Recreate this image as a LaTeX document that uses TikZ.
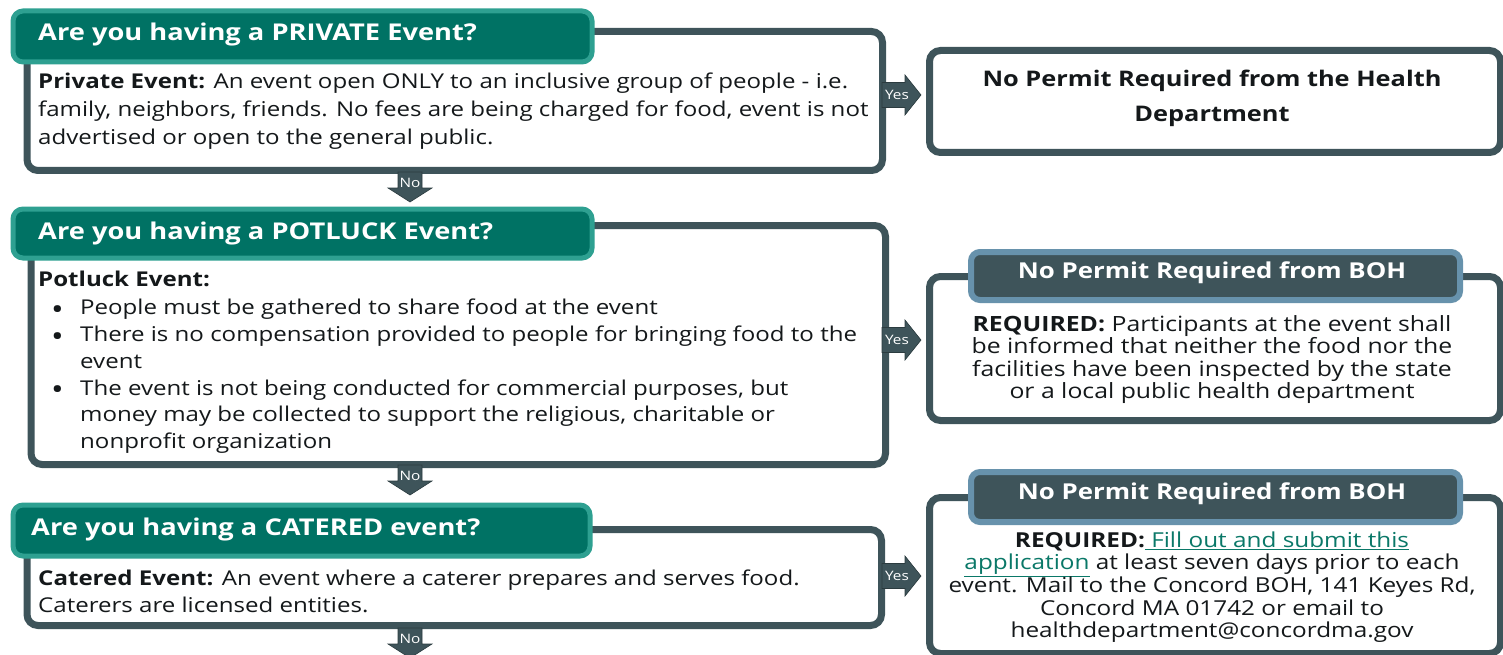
\documentclass[tikz,border=0pt]{standalone}
\usepackage{fontspec}
\setmainfont{Open Sans}[FakeStretch=1.18]
\definecolor{hdrfill}{RGB}{0,114,100}
\definecolor{hdredge}{RGB}{46,160,145}
\definecolor{slate}{RGB}{62,84,90}
\definecolor{steel}{RGB}{103,146,172}
\definecolor{ink}{RGB}{20,24,26}
\definecolor{linkc}{RGB}{10,120,104}
\tikzset{
  qbox/.style={draw=slate, line width=7pt, fill=white, rounded corners=11pt, inner sep=0pt, anchor=north west},
  hdr/.style={draw=hdredge, line width=5pt, fill=hdrfill, rounded corners=10pt, inner sep=0pt, anchor=north west},
  bohhdr/.style={draw=steel, line width=6pt, fill=slate, rounded corners=9pt, inner sep=0pt, anchor=north west},
  hdrtext/.style={text=white, font={\fontsize{23.1}{28}\selectfont\bfseries}, inner sep=0pt, anchor=west},
  bohtext/.style={text=white, font={\fontsize{21.9}{26}\selectfont\bfseries}, inner sep=0pt, anchor=center},
  body/.style={text=ink, font={\fontsize{20.4}{28}\selectfont}, inner sep=0pt, align=left, anchor=north west},
  rbody/.style={text=ink, font={\fontsize{21}{22.6}\selectfont}, inner sep=0pt, align=center, anchor=north},
  arrowfill/.style={fill=slate, draw=slate!70!black, line width=0.6pt},
  arrowlab/.style={text=white, font={\fontsize{13}{15}\selectfont}, inner sep=0pt},
}
% list bullet with its hanging indent, and the matching indent for wrapped lines
\newcommand{\bul}{\makebox[42pt][l]{\hspace{13pt}\raisebox{-4.5pt}{\smash{\scalebox{1.4}{\textbullet}}}}}
\newcommand{\ind}{\hspace*{42pt}}
\begin{document}
\begin{tikzpicture}[x=1pt,y=-1pt]
\useasboundingbox (0,0) rectangle (1503,655);

% --- left column: question boxes
\node[qbox, minimum width=855.5, minimum height=139] (q1) at (23.5,28) {};
\node[qbox, minimum width=854.5, minimum height=239] (q2) at (27.5,222) {};
\node[qbox, minimum width=854.5, minimum height=96] (q3) at (23.5,526) {};

% --- right column: outcome boxes
\node[qbox, minimum width=571, minimum height=102] (r1) at (926,47) {};
\node[qbox, minimum width=571, minimum height=144] (r2) at (926,273) {};
\node[qbox, minimum width=571, minimum height=156] (r3) at (926,494) {};

% --- question headers
\node[hdr, minimum width=579, minimum height=51] (h1) at (10.5,8.5) {};
\node[hdr, minimum width=579, minimum height=49] (h2) at (10.5,206.5) {};
\node[hdr, minimum width=577, minimum height=51] (h3) at (10.5,502.5) {};
\node[hdrtext] (h1t) at (38,35) {Are you having a PRIVATE Event?};
\node[hdrtext] (h2t) at (38,233.5) {Are you having a POTLUCK Event?};
\node[hdrtext] (h3t) at (31,529) {Are you having a CATERED event?};

% --- outcome headers
\node[bohhdr, minimum width=489, minimum height=48] (g2) at (968,249) {};
\node[bohhdr, minimum width=489, minimum height=50] (g3) at (968,469) {};
\node[bohtext] (g2t) at (1212,273) {No Permit Required from BOH};
\node[bohtext] (g3t) at (1212,494) {No Permit Required from BOH};

% --- question descriptions
\node[body] (b1) at (38,73) {\textbf{Private Event:} An event open ONLY to an inclusive group of people - i.e.\\
family, neighbors, friends. No fees are being charged for food, event is not\\
advertised or open to the general public.};
\node[body, font={\fontsize{20.4}{26.8}\selectfont}] (b2) at (38,271) {\textbf{Potluck Event:}\\[1.2pt]
\bul People must be gathered to share food at the event\\
\bul There is no compensation provided to people for bringing food to the\\
\ind event\\
\bul The event is not being conducted for commercial purposes, but\\
\ind money may be collected to support the religious, charitable or\\
\ind nonprofit organization};
\node[body, font={\fontsize{20.4}{27}\selectfont}] (b3) at (38,569.5) {\textbf{Catered Event:} An event where a caterer prepares and serves food.\\
Caterers are licensed entities.};

% --- outcome texts
\node[text=ink, font={\fontsize{21.5}{35}\selectfont\bfseries}, inner sep=0pt, align=center] (r1t) at (1212,98) {No Permit Required from the Health\\ Department};
\node[rbody] (r2t) at (1212,315) {\textbf{REQUIRED:} Participants at the event shall\\
be informed that neither the food nor the\\
facilities have been inspected by the state\\
or a local public health department};
\node[rbody, font={\fontsize{20.6}{22.6}\selectfont}] (r3t) at (1212,531.5) {\textbf{REQUIRED:}\textcolor{linkc}{\underline{\ Fill out and submit this}}\\
\textcolor{linkc}{\underline{application}} at least seven days prior to each\\
event. Mail to the Concord BOH, 141 Keyes Rd,\\
Concord MA 01742 or email to\\
healthdepartment@concordma.gov};

% --- "Yes" arrows (left box to outcome box)
\foreach \n/\yy in {1/95, 2/340, 3/576} {
  \fill[arrowfill, shift={(882,\yy)}] (0,-12.5) -- (23,-12.5) -- (23,-20) -- (39,0) -- (23,20) -- (23,12.5) -- (0,12.5) -- cycle;
  \node[arrowlab] (yes\n) at (897,\yy) {Yes};
}
% --- "No" arrows (down to next question)
\foreach \n/\yy in {1/172, 2/465, 3/628} {
  \fill[arrowfill, shift={(410,\yy)}] (-12,0) -- (12,0) -- (12,16) -- (22,16) -- (0,30) -- (-22,16) -- (-12,16) -- cycle;
  \node[arrowlab] (no\n) at (410,\yy+11) {No};
}
\end{tikzpicture}
\end{document}
